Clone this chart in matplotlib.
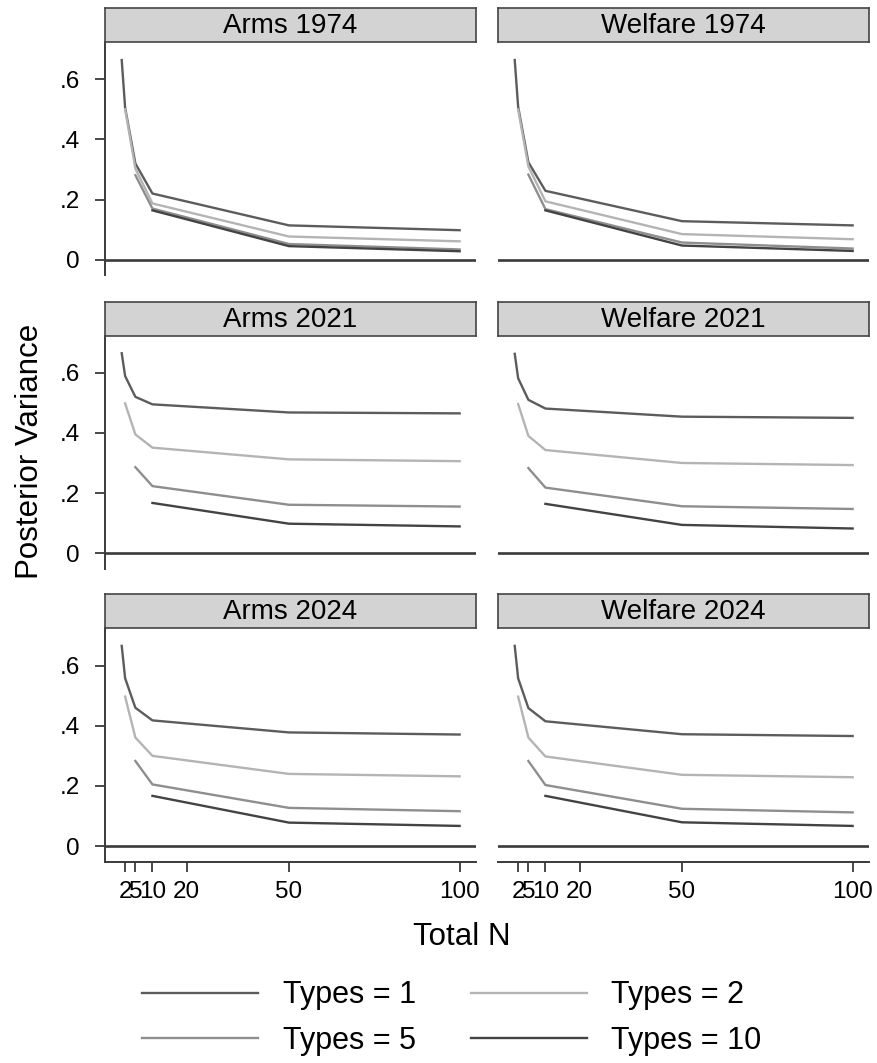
import matplotlib
matplotlib.use("Agg")
import matplotlib.pyplot as plt
from matplotlib.lines import Line2D

plt.rcParams['font.family'] = ['Liberation Sans', 'DejaVu Sans']

# total N at which each model is evaluated (a model with k types starts at N=k)
n_types1 = [1, 2, 5, 10, 50, 100]
n_types2 = [2, 5, 10, 50, 100]
n_types5 = [5, 10, 50, 100]
n_types10 = [10, 50, 100]

type_labels = ['Types = 1', 'Types = 2', 'Types = 5', 'Types = 10']
type_colors = ['#5c5c5c', '#b4b4b4', '#8e8e8e', '#434343']

x_ticks = [2, 5, 10, 20, 50, 100]
y_ticks = [0, 0.2, 0.4, 0.6]
y_ticklabels = ['0', '.2', '.4', '.6']

# posterior variance, one list per number of types (1, 2, 5, 10)
arms_1974 = [[0.664, 0.505, 0.320, 0.220, 0.114, 0.098],
             [0.500, 0.303, 0.187, 0.077, 0.061],
             [0.281, 0.170, 0.052, 0.034],
             [0.164, 0.045, 0.028]]
welfare_1974 = [[0.664, 0.509, 0.324, 0.229, 0.128, 0.114],
                [0.500, 0.310, 0.194, 0.085, 0.068],
                [0.283, 0.168, 0.057, 0.037],
                [0.164, 0.047, 0.029]]
arms_2021 = [[0.665, 0.589, 0.520, 0.495, 0.468, 0.465],
             [0.498, 0.395, 0.351, 0.312, 0.306],
             [0.286, 0.223, 0.161, 0.155],
             [0.167, 0.098, 0.089]]
welfare_2021 = [[0.663, 0.582, 0.510, 0.481, 0.454, 0.450],
                [0.496, 0.390, 0.343, 0.300, 0.293],
                [0.283, 0.218, 0.156, 0.147],
                [0.164, 0.094, 0.082]]
arms_2024 = [[0.666, 0.558, 0.460, 0.418, 0.378, 0.371],
             [0.497, 0.361, 0.300, 0.240, 0.232],
             [0.283, 0.205, 0.127, 0.116],
             [0.167, 0.078, 0.067]]
welfare_2024 = [[0.666, 0.558, 0.459, 0.415, 0.372, 0.366],
                [0.497, 0.361, 0.298, 0.237, 0.229],
                [0.283, 0.203, 0.124, 0.112],
                [0.167, 0.079, 0.067]]

panels = [[('Arms 1974', arms_1974), ('Welfare 1974', welfare_1974)],
          [('Arms 2021', arms_2021), ('Welfare 2021', welfare_2021)],
          [('Arms 2024', arms_2024), ('Welfare 2024', welfare_2024)]]
n_values = [n_types1, n_types2, n_types5, n_types10]

W, H = 878, 1063
axis_col = '#3a3a3a'


def rect(left, top, width, height):
    return [left / W, 1 - (top + height) / H, width / W, height / H]


fig = plt.figure(figsize=(W / 100, H / 100), dpi=100)

col_left = [105, 498]
row_top = [42, 335.5, 628.4]
plot_w, plot_h, strip_h = 371, 233.3, 34

for r in range(3):
    for c in range(2):
        title, series = panels[r][c]
        ax = fig.add_axes(rect(col_left[c], row_top[r], plot_w, plot_h))
        ax.axhline(0, color=axis_col, lw=1.9, zorder=1)
        for n, v, col in zip(n_values, series, type_colors):
            ax.plot(n, v, color=col, lw=1.7, zorder=2)
        ax.set_xlim(-3.9, 104.8)
        ax.set_ylim(-0.052, 0.724)
        ax.spines['top'].set_visible(False)
        ax.spines['right'].set_visible(False)
        ax.spines['left'].set_visible(c == 0)
        ax.spines['bottom'].set_visible(r == 2)
        for sp in ('left', 'bottom'):
            ax.spines[sp].set_color(axis_col)
            ax.spines[sp].set_linewidth(1.4)
        ax.set_yticks(y_ticks)
        ax.set_yticklabels(y_ticklabels)
        ax.set_xticks(x_ticks)
        ax.set_xticklabels([str(t) for t in x_ticks])
        ax.tick_params(axis='y', length=7, width=1.3, color=axis_col,
                       labelsize=17.5, pad=11, left=(c == 0), labelleft=(c == 0))
        ax.tick_params(axis='x', length=7, width=1.3, color=axis_col,
                       labelsize=17.5, pad=7, bottom=(r == 2), labelbottom=(r == 2))

        sax = fig.add_axes(rect(col_left[c], row_top[r] - strip_h, plot_w, strip_h))
        sax.set_facecolor('#d3d3d3')
        sax.set_xticks([])
        sax.set_yticks([])
        for sp in sax.spines.values():
            sp.set_color('#444444')
            sp.set_linewidth(1.2)
        sax.text(0.5, 0.47, title, ha='center', va='center', fontsize=20,
                 transform=sax.transAxes)

fig.text(30 / W, 1 - 451 / H, 'Posterior Variance', rotation=90,
         ha='center', va='center', fontsize=22.5)
fig.text(462 / W, 1 - 937 / H, 'Total N', ha='center', va='center', fontsize=22.5)

# legend is filled column-wise, so reorder to get rows (1, 2) and (5, 10)
order = [0, 2, 1, 3]
handles = [Line2D([], [], color=type_colors[i], lw=1.7) for i in order]
labels = [type_labels[i] for i in order]
fig.legend(handles, labels, ncol=2, loc='center',
           bbox_to_anchor=(452 / W, 1 - 1018 / H), frameon=False,
           fontsize=22, handlelength=3.8, handletextpad=0.8,
           columnspacing=1.8, labelspacing=0.5)

fig.savefig('out.png', dpi=100)
